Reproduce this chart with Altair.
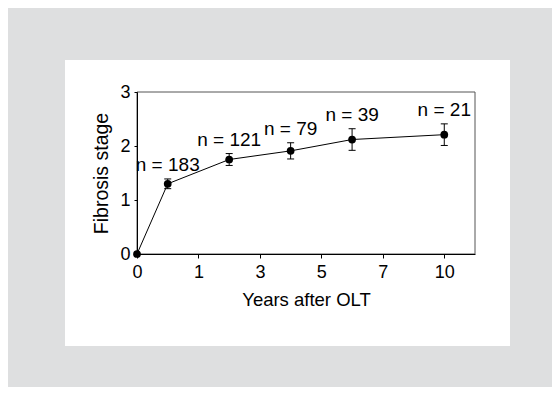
import altair as alt
import pandas as pd

# Data (x position is index along the non-linear time axis)
tick_labels = ["0", "1", "3", "5", "7", "10"]
x_pos = [0, 0.5, 1.5, 2.5, 3.5, 5]
stage = [0.0, 1.30, 1.75, 1.91, 2.12, 2.21]
err = [0.0, 0.09, 0.11, 0.15, 0.20, 0.20]
n_labels = ["", "n = 183", "n = 121", "n = 79", "n = 39", "n = 21"]

df = pd.DataFrame({
    "x": x_pos,
    "y": stage,
    "lo": [s - e for s, e in zip(stage, err)],
    "hi": [s + e for s, e in zip(stage, err)],
    "label": n_labels,
})
df_err = df[df["label"] != ""]

FONT = "Liberation Sans"
label_expr = "datum.value % 1 == 0 ? " + str(tick_labels) + "[datum.value] : ''"

x_enc = alt.X(
    "x:Q",
    scale=alt.Scale(domain=[0, 5.5], nice=False, zero=False),
    axis=alt.Axis(
        values=[i * 0.5 for i in range(12)],
        labelExpr=label_expr,
        labelFlush=False,
        labelOverlap=False,
        title="Years after OLT",
        grid=False,
        tickSize=4,
        labelPadding=5,
        labelFontSize=18,
        titleFontSize=18.5,
        titleFontWeight="normal",
        titlePadding=9,
        domainColor="#000",
        tickColor="#000",
        labelColor="#000",
        titleColor="#000",
        labelFont=FONT,
        titleFont=FONT,
        zindex=2,
    ),
)
y_enc = alt.Y(
    "y:Q",
    scale=alt.Scale(domain=[0, 3], nice=False),
    axis=alt.Axis(
        values=[0, 1, 2, 3],
        format="d",
        labelFlush=False,
        title="Fibrosis stage",
        grid=False,
        tickSize=3,
        labelPadding=4,
        labelFontSize=18,
        titleFontSize=19.5,
        titleFontWeight="normal",
        titlePadding=8,
        domainColor="#000",
        tickColor="#000",
        labelColor="#000",
        titleColor="#000",
        labelFont=FONT,
        titleFont=FONT,
        zindex=2,
    ),
)

one = pd.DataFrame({"a": [0]})
panel = alt.Chart(one).mark_rect(color="white").encode(
    x=alt.value(-72), x2=alt.value(373), y=alt.value(-32), y2=alt.value(254)
)
frame = alt.Chart(one).mark_rect(fill=None, stroke="#555", strokeWidth=1).encode(
    x=alt.X(datum=0), x2=alt.X2(datum=5.5), y=alt.Y(datum=0), y2=alt.Y2(datum=3)
)

base = alt.Chart(df)
line = base.mark_line(color="black", strokeWidth=1).encode(x=x_enc, y=y_enc)
points = base.mark_point(filled=True, color="black", size=60, opacity=1, shape="circle").encode(
    x="x:Q", y="y:Q"
)
ebase = alt.Chart(df_err)
rules = ebase.mark_rule(color="black", strokeWidth=1).encode(x="x:Q", y="lo:Q", y2="hi:Q")
tick_lo = ebase.mark_tick(color="black", size=7, thickness=1, orient="horizontal", opacity=1).encode(
    x="x:Q", y="lo:Q"
)
tick_hi = ebase.mark_tick(color="black", size=7, thickness=1, orient="horizontal", opacity=1).encode(
    x="x:Q", y="hi:Q"
)
texts = ebase.mark_text(
    baseline="bottom", dy=-4, fontSize=19, font=FONT, color="black"
).encode(x="x:Q", y="hi:Q", text="label:N")

chart = (
    alt.layer(panel, line, frame, rules, tick_lo, tick_hi, points, texts)
    .properties(
        width=338,
        height=162,
        padding={"left": 129, "top": 84, "right": 77, "bottom": 133},
        autosize=alt.AutoSizeParams(type="none"),
        background="#dedfe0",
    )
    .configure_view(stroke=None)
)

chart.save("out.html", embed_options={"renderer": "svg", "actions": False})
